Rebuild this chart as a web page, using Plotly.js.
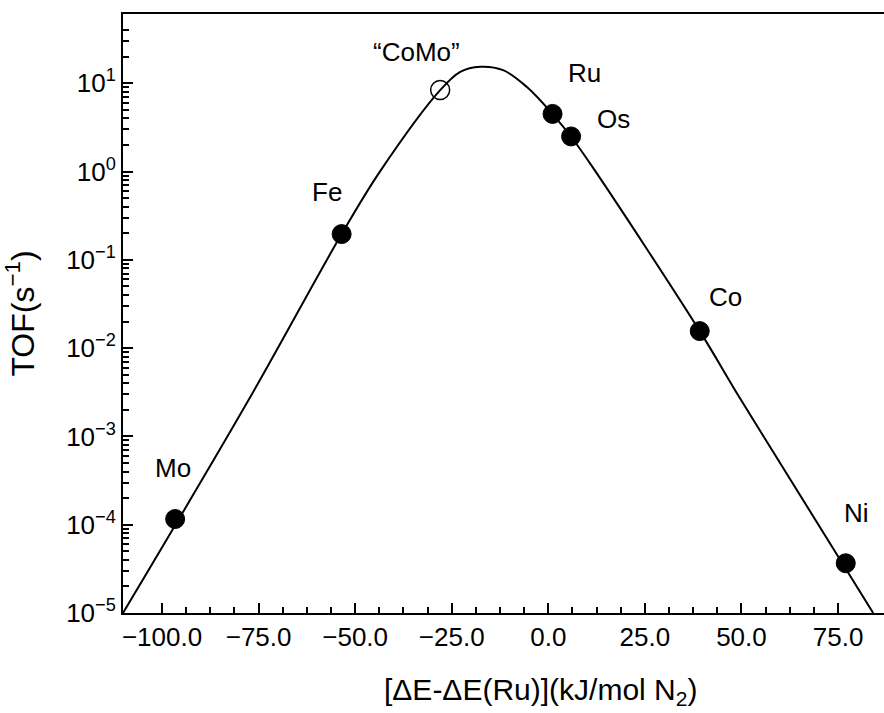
<!DOCTYPE html>
<html>
<head>
<meta charset="utf-8">
<script src="https://cdn.plot.ly/plotly-3.0.1.min.js"></script>
<style>html,body{margin:0;padding:0;background:#fff;overflow:hidden;}</style>
</head>
<body>
<div id="chart" style="width:884px;height:713px;"></div>
<script>
// ---- data ----
const metals = ['Mo', 'Fe', 'Ru', 'Os', 'Co', 'Ni'];
const metalDE = [-96.6, -53.5, 1.1, 5.9, 39.2, 77.0];
const metalTOF = [1.16e-4, 0.196, 4.5, 2.5, 0.0156, 3.66e-5];

const alloyName = ['“CoMo”'];
const alloyDE = [-28.0];
const alloyTOF = [8.4];

const curveDE = [-110.1, -77.6, -53.5, -43.6, -28.0, -22.8, -17.6, -11.7, -5.6, 1.1, 5.9, 11.6, 39.2, 49.9, 84.1];
const curveTOF = [1e-5, 2.58e-3, 0.196, 1.0, 8.37, 13.5, 15.4, 14.1, 9.12, 4.48, 2.48, 1.1, 0.0156, 2.58e-3, 1e-5];

const xTickVals = [-100, -75, -50, -25, 0, 25, 50, 75];
const yTickExp = [-5, -4, -3, -2, -1, 0, 1];

// ---- styling ----
const FONT = 'Liberation Sans, Arial, Helvetica, sans-serif';
const X_RANGE = [-110.1, 86.9];
const Y_RANGE = [-5, 1.785];
// label offsets in pixels (x right, y up), same order as metals then alloy
const metalShift = [[-2, 51], [-15, 42], [32, 41], [42, 17], [26, 34], [11, 50]];
const alloyShift = [[-24, 38]];

const yTickVals = yTickExp.map(e => Math.pow(10, e));
const yTickText = yTickExp.map(e => '10<sup>' + (e < 0 ? '\u2212' + (-e) : e) + '</sup>');
const yMinor = [];
yTickExp.forEach(e => {
  for (let m = 2; m <= 9; m++) {
    if (e === 1 && m > 4) break;
    yMinor.push(m * Math.pow(10, e));
  }
});
const xMinor = [];
for (let i = 0; i < xTickVals.length - 1; i++) {
  const step = (xTickVals[i + 1] - xTickVals[i]) / 4;
  for (let k = 1; k < 4; k++) xMinor.push(xTickVals[i] + k * step);
}

const traces = [
  {
    x: curveDE, y: curveTOF, type: 'scatter', mode: 'lines',
    line: {color: '#000', width: 2, shape: 'spline', smoothing: 1},
    hoverinfo: 'skip', showlegend: false
  },
  {
    x: metalDE, y: metalTOF, type: 'scatter', mode: 'markers',
    marker: {color: '#000', size: 19, line: {color: '#000', width: 1}},
    showlegend: false
  },
  {
    x: alloyDE, y: alloyTOF, type: 'scatter', mode: 'markers',
    marker: {symbol: 'circle-open', color: '#000', size: 19, line: {color: '#000', width: 1.5}},
    showlegend: false
  }
];

const annotations = [];
metals.forEach((m, i) => {
  annotations.push({
    x: metalDE[i], y: Math.log10(metalTOF[i]), xref: 'x', yref: 'y',
    text: m, showarrow: false, xshift: metalShift[i][0], yshift: metalShift[i][1],
    font: {family: FONT, size: 26, color: '#000'}
  });
});
alloyName.forEach((m, i) => {
  annotations.push({
    x: alloyDE[i], y: Math.log10(alloyTOF[i]), xref: 'x', yref: 'y',
    text: m, showarrow: false, xshift: alloyShift[i][0], yshift: alloyShift[i][1],
    font: {family: FONT, size: 26, color: '#000'}
  });
});
annotations.push({
  x: 0.548, y: 0, xref: 'paper', yref: 'paper', yanchor: 'middle', yshift: -78,
  text: '[\u0394E-\u0394E(Ru)](kJ/mol N<sub>2</sub>)', showarrow: false,
  font: {family: FONT, size: 30, color: '#000'}
});

const layout = {
  width: 884, height: 713,
  margin: {l: 123, r: 0, t: 14, b: 100, pad: 0},
  paper_bgcolor: '#fff', plot_bgcolor: 'rgba(0,0,0,0)',
  font: {family: FONT, color: '#000', size: 26},
  showlegend: false,
  xaxis: {
    range: X_RANGE, showgrid: false, zeroline: false,
    showline: true, linecolor: '#000', linewidth: 2, mirror: true,
    ticks: 'inside', ticklen: 10, tickwidth: 2, tickcolor: '#000',
    tickmode: 'array', tickvals: xTickVals,
    ticktext: xTickVals.map(v => (v < 0 ? '\u2212' : '') + Math.abs(v).toFixed(1)),
    tickfont: {family: FONT, size: 26, color: '#000'},
    minor: {tickmode: 'array', tickvals: xMinor, ticks: 'inside', ticklen: 6, tickwidth: 2, tickcolor: '#000', showgrid: false}
  },
  yaxis: {
    type: 'log', range: Y_RANGE, showgrid: false, zeroline: false,
    showline: true, linecolor: '#000', linewidth: 2,
    ticks: 'inside', ticklen: 10, tickwidth: 2, tickcolor: '#000',
    tickmode: 'array', tickvals: yTickVals, ticktext: yTickText,
    tickfont: {family: FONT, size: 26, color: '#000'},
    minor: {tickmode: 'array', tickvals: yMinor, ticks: 'inside', ticklen: 6, tickwidth: 2, tickcolor: '#000', showgrid: false},
    title: {text: 'TOF(s<sup>\u22121</sup>)', font: {family: FONT, size: 32, color: '#000'}, standoff: 22}
  },
  annotations: annotations
};

Plotly.newPlot('chart', traces, layout, {displayModeBar: false, staticPlot: true});
</script>
</body>
</html>
